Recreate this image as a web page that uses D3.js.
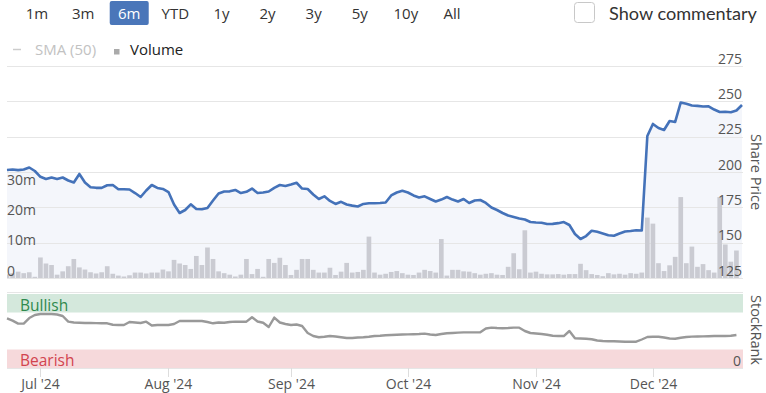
<!DOCTYPE html>
<html><head><meta charset="utf-8">
<script src="https://cdn.jsdelivr.net/npm/d3@7"></script>
<style>
body{margin:0;background:#fff;}
svg{display:block;font-family:"Open Sans",sans-serif;}
</style>
</head><body>
<svg id="c" width="766" height="393"></svg>
<script>
// ---------- data ----------
const startDate = "2024-06-21";
const endDate = "2024-12-24";
const rangeButtons = ["1m","3m","6m","YTD","1y","2y","3y","5y","10y","All"];
const selectedRange = "6m";
const priceTicks = [125,150,175,200,225,250,275];
const volumeTicks = [0,10,20,30];
const volumeTickLabels = ["0","10m","20m","30m"];
const rankTicks = [0];
const legendItems = ["SMA (50)","Volume"];

// share price per trading day
const prices = [
201.4,201.8,201.3,201.8,203.2,200.7,196.6,195.0,196.1,195.0,
196.1,194.0,192.6,198.6,192.6,189.2,188.8,188.8,190.6,190.8,
187.8,187.8,187.6,185.1,182.3,186.9,190.8,188.7,188.0,185.8,
177.0,171.0,173.1,177.1,173.8,173.6,174.5,179.8,184.8,186.2,
186.3,187.3,185.1,186.0,188.3,185.1,185.5,186.2,188.8,190.8,
190.1,191.2,192.4,188.3,188.0,184.1,180.9,182.8,179.5,177.4,
178.9,177.0,176.2,175.6,177.4,177.9,177.9,178.1,178.4,183.4,
185.5,186.7,185.5,183.4,182.0,182.8,180.9,179.1,180.5,182.3,
180.5,179.1,180.9,178.1,179.8,180.2,178.1,174.9,173.1,171.0,
169.2,168.2,167.1,166.4,164.6,164.3,164.1,163.2,163.3,163.8,
164.6,162.5,156.1,152.6,154.7,158.4,157.7,156.5,155.3,154.9,
156.5,157.9,158.3,158.8,158.6,225.5,234.0,231.1,229.7,236.1,
235.4,249.2,248.3,247.1,246.8,246.3,246.5,244.2,242.5,242.6,
242.3,243.5,247.4];

// volume (millions)
const volumes = [
1.2,1.6,2.1,1.6,1.9,0.4,6.8,4.8,4.3,1.1,
2.2,3.9,6.3,3.5,2.8,1.9,1.5,1.9,3.9,1.4,
0.8,0.5,0.9,1.8,1.8,1.5,1.8,1.8,2.8,2.2,
6.0,4.8,4.3,3.0,7.3,4.3,10.1,6.3,2.2,1.6,
1.1,0.5,1.1,6.3,1.3,3.0,0.4,6.3,5.0,6.7,
4.3,1.0,2.7,6.3,6.3,2.7,1.8,1.8,3.4,1.0,
2.1,5.0,1.8,2.0,2.7,13.7,1.8,1.1,1.4,2.0,
2.3,1.6,1.1,1.0,1.8,2.7,2.3,1.8,12.9,0.8,
2.7,2.7,2.2,2.1,1.6,1.1,1.4,1.6,1.1,1.0,
3.7,8.2,2.9,15.8,1.8,2.1,1.4,1.2,1.2,1.3,
1.1,1.3,1.3,4.7,2.6,1.3,1.0,0.6,1.6,1.2,
1.4,1.1,1.6,1.4,1.8,20.0,18.0,4.9,2.3,4.2,
7.0,26.8,4.9,10.4,3.7,4.6,2.6,1.8,26.8,11.1,
5.4,9.1,null];

// StockRank (0-100)
const ranks = [
67,64,60,60,67.5,71.6,73,73,73,72.3,
70.3,62.6,61.5,61.2,60.8,60.8,60.6,60.5,60.4,58.4,
58.1,58.1,62.2,61.5,60.8,62.6,57.4,58.1,58.1,58.1,
59.5,63.5,63.5,63.5,63.5,63.5,62.2,60.4,61.5,61.2,
62.2,62.6,62.6,62.6,68.5,62.8,61.2,55.4,68.2,61.5,
59.5,58.1,58.8,56.8,47.3,43.2,41.5,42.2,43.2,42.6,
41.6,40.5,40.5,41.2,41.6,42.2,43.2,43.6,44.2,44.6,
44.9,45.3,45.5,45.7,45.9,46.4,45.3,44.6,45.9,46.9,
47.3,47.8,48.2,48.2,48.2,48.2,53.4,54.5,54,53.8,
54,54.5,54.5,50,47.3,46.6,45.9,44.9,43.6,43.2,
43.2,50,40.1,39.9,39.5,38.8,37.2,36.5,36.2,36.1,
35.8,35.5,35.5,35.5,38.5,41.9,42.3,42.3,41.2,39.9,
39.6,40.9,41.9,42.4,42.6,42.8,43,43.2,43.2,43.2,
43.6,44.6,null];

// ---------- layout ----------
const svg = d3.select("#c");
const parse = d3.timeParse("%Y-%m-%d");
const dates = d3.timeDay.range(parse(startDate), d3.timeDay.offset(parse(endDate),1))
  .filter(d => d.getDay() !== 0 && d.getDay() !== 6);
const N = prices.length;
const L = 7, R = 742;
const x = d3.scaleLinear().domain([0, N-1]).range([L, R]);
const yP = d3.scaleLinear().domain([125,275]).range([278,66]);
const yV = d3.scaleLinear().domain([0,70]).range([278,66.6]);
const yR = d3.scaleLinear().domain([0,100]).range([368,294]);
const txt = "#555";

// range selector
const bx = d3.scaleLinear().domain([0, rangeButtons.length-1]).range([37, 452]);
rangeButtons.forEach((b,i) => {
  const sel = b === selectedRange;
  if (sel) svg.append("rect").attr("x", bx(i)-19.5).attr("y", 1).attr("width", 39).attr("height", 24)
     .attr("rx", 2).attr("fill", "#4a76b9");
  svg.append("text").attr("x", bx(i)).attr("y", 18.5).attr("text-anchor","middle")
     .attr("font-size", 15).attr("fill", sel ? "#fff" : "#333").text(b);
});
// checkbox
svg.append("rect").attr("x",574.5).attr("y",2.5).attr("width",20).attr("height",20).attr("rx",3)
   .attr("fill","#fff").attr("stroke","#c8c8c8");
const sc = svg.append("text").attr("x",609).attr("y",20).attr("font-family","Lato, sans-serif")
   .attr("font-size",18).attr("fill","#333").text("Show commentary");
const w0 = sc.node().getComputedTextLength();
sc.attr("font-size", 18*148/w0);

// legend
svg.append("line").attr("x1",13).attr("x2",21).attr("y1",49.5).attr("y2",49.5).attr("stroke","#ccc").attr("stroke-width",1.5);
svg.append("text").attr("x",35).attr("y",54.5).attr("font-size",15).attr("fill","#c2c2c2").text(legendItems[0]);
svg.append("rect").attr("x",114).attr("y",49).attr("width",5.5).attr("height",5.5).attr("fill","#aaa");
svg.append("text").attr("x",130).attr("y",54.5).attr("font-size",15).attr("fill","#222").text(legendItems[1]);

// area under price
const area = d3.area().x((d,i)=>x(i)).y0(278).y1(d=>yP(d));
svg.append("path").datum(prices).attr("d", area).attr("fill","#f4f6fb");

// gridlines
svg.append("g").selectAll("line").data(priceTicks).join("line")
  .attr("x1",L).attr("x2",R+1).attr("y1",d=>Math.round(yP(d))+0.5).attr("y2",d=>Math.round(yP(d))+0.5)
  .attr("stroke","#e6e6e6");

// volume bars
const bw = (x(1)-x(0))*0.84;
svg.append("defs").append("clipPath").attr("id","pc").append("rect").attr("x",L).attr("y",60).attr("width",R-L+1).attr("height",220);
svg.append("g").attr("clip-path","url(#pc)").selectAll("rect")
  .data(volumes.map((v,i)=>({v,i})).filter(d=>d.v!==null)).join("rect")
  .attr("x",d=>x(d.i)-bw/2).attr("width",bw)
  .attr("y",d=>yV(d.v)).attr("height",d=>278-yV(d.v))
  .attr("fill","#cacbd2");

// price line
svg.append("path").datum(prices).attr("d", d3.line().x((d,i)=>x(i)).y(d=>yP(d)))
  .attr("fill","none").attr("stroke","#4472b9").attr("stroke-width",2.6).attr("stroke-linejoin","round");

// right axis labels
svg.append("g").selectAll("text").data(priceTicks).join("text")
  .attr("x",742).attr("y",d=>yP(d)-2.5).attr("text-anchor","end")
  .attr("font-size",14).attr("fill",txt).text(d=>d);
// left axis labels
svg.append("g").selectAll("text").data(volumeTicks).join("text")
  .attr("x",7).attr("y",d=>yV(d)-2.5)
  .attr("font-size",14).attr("fill",txt).text((d,i)=>volumeTickLabels[i]);
// axis titles
svg.append("text").attr("transform","translate(750.5,172) rotate(90)").attr("text-anchor","middle")
  .attr("font-size",14.5).attr("fill",txt).text("Share Price");
svg.append("text").attr("transform","translate(750.5,330) rotate(90)").attr("text-anchor","middle")
  .attr("font-size",14.5).attr("fill",txt).text("StockRank");

// StockRank pane
svg.append("line").attr("x1",L).attr("x2",R+1).attr("y1",292.5).attr("y2",292.5).attr("stroke","#e6e6e6");
svg.append("rect").attr("x",L).attr("y",yR(100)).attr("width",R-L+1).attr("height",yR(75)-yR(100)).attr("fill","#d4e8dc");
svg.append("rect").attr("x",L).attr("y",yR(25)).attr("width",R-L+1).attr("height",yR(0)-yR(25)).attr("fill","#f6d9db");
svg.append("text").attr("x",20).attr("y",311).attr("font-size",15.5).attr("fill","#2f8a4e").text("Bullish");
svg.append("text").attr("x",20).attr("y",366).attr("font-size",15.5).attr("fill","#d2444f").text("Bearish");
svg.append("g").selectAll("text").data(rankTicks).join("text")
  .attr("x",741).attr("y",d=>yR(d)-2.5).attr("text-anchor","end").attr("font-size",14).attr("fill",txt).text(d=>d);
svg.append("path").datum(ranks).attr("d", d3.line().defined(d=>d!==null).x((d,i)=>x(i)).y(d=>yR(d)))
  .attr("fill","none").attr("stroke","#999").attr("stroke-width",2.4).attr("stroke-linejoin","round");

// x axis
svg.append("line").attr("x1",L).attr("x2",R+1).attr("y1",368.5).attr("y2",368.5).attr("stroke","#e6e6e6");
const fmt = d3.timeFormat("%b '%y");
const monthIdx = [];
dates.forEach((d,i)=>{ if (i>0 && d.getMonth()!==dates[i-1].getMonth()) monthIdx.push(i); });
const xt = svg.append("g");
monthIdx.forEach(i=>{
  const px = Math.round(x(i))+0.5;
  xt.append("line").attr("x1",px).attr("x2",px).attr("y1",368).attr("y2",377).attr("stroke","#ddd");
  xt.append("text").attr("x",px).attr("y",389).attr("text-anchor","middle").attr("font-size",14)
    .attr("fill",txt).text(fmt(dates[i]));
});
</script>
</body></html>
